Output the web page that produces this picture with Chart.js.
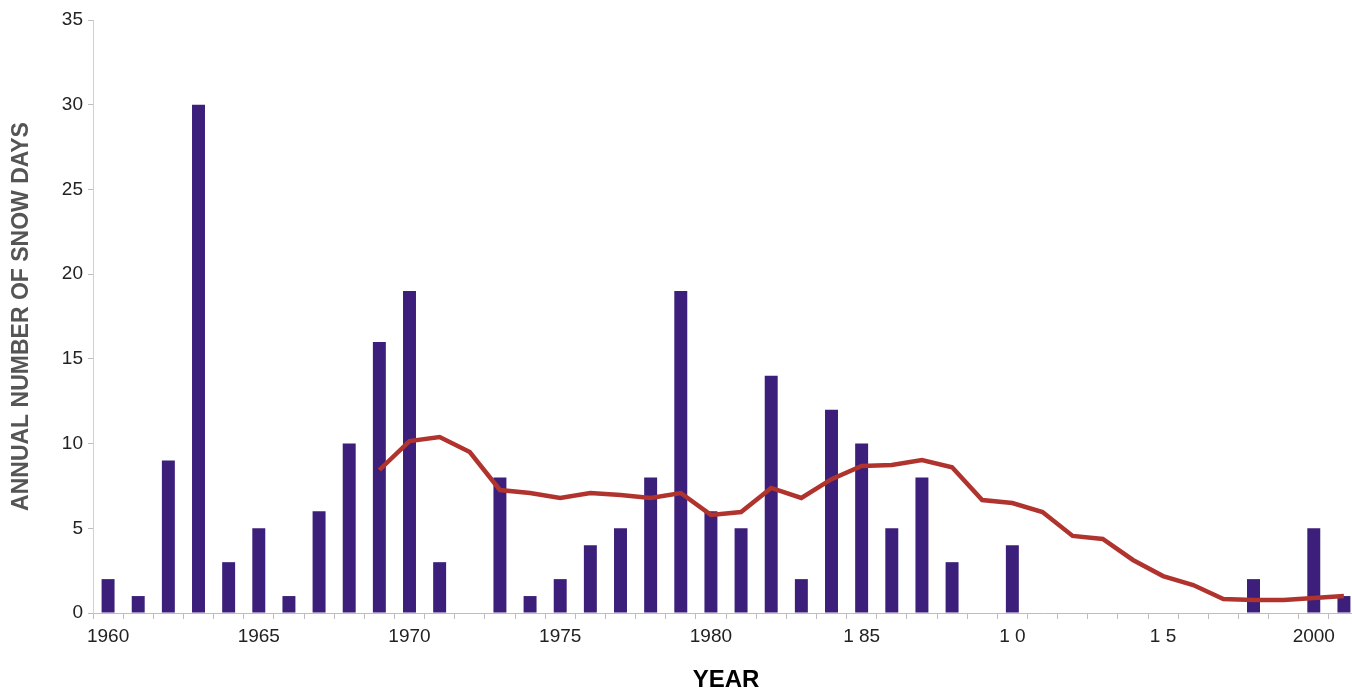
<!DOCTYPE html>
<html lang="en">
<head>
    <meta charset="UTF-8">
    <title>Annual Number of Snow Days</title>
    <script src="https://cdn.jsdelivr.net/npm/chart.js"></script>
    <style>
        body { margin: 0; background: #ffffff; overflow: hidden; }
        #wrap { width: 1360px; height: 695px; }
    </style>
</head>
<body>
    <div id="wrap">
        <canvas id="snowChart" width="1360" height="695"></canvas>
    </div>

    <script>
        // years on the x axis
        const years = [
            1960, 1961, 1962, 1963, 1964, 1965, 1966, 1967, 1968, 1969,
            1970, 1971, 1972, 1973, 1974, 1975, 1976, 1977, 1978, 1979,
            1980, 1981, 1982, 1983, 1984, 1985, 1986, 1987, 1988, 1989,
            1990, 1991, 1992, 1993, 1994, 1995, 1996, 1997, 1998, 1999,
            2000, 2001
        ];

        // annual snow days (bars)
        const snowDays = [
            2, 1, 9, 30, 3, 5, 1, 6, 10, 16,
            19, 3, 0, 8, 1, 2, 4, 5, 8, 19,
            6, 5, 14, 2, 12, 10, 5, 8, 3, 0,
            4, 0, 0, 0, 0, 0, 0, 0, 2, 0,
            5, 1
        ];

        // moving average (red line), starts in 1969
        const movingAvg = [
            null, null, null, null, null, null, null, null, null, 8.44,
            10.15, 10.39, 9.5, 7.26, 7.08, 6.79, 7.08, 6.97, 6.79, 7.08,
            5.79, 5.96, 7.38, 6.79, 7.9, 8.68, 8.74, 9.03, 8.6, 6.67,
            6.49, 5.96, 4.55, 4.37, 3.13, 2.18, 1.65, 0.83, 0.77, 0.77,
            0.89, 1.0
        ];

        // tick labels shown every 5 years, as printed on the original
        const xTickLabels = ['1960', '1965', '1970', '1975', '1980', '1 85', '1 0', '1 5', '2000'];

        const ctx = document.getElementById('snowChart').getContext('2d');
        new Chart(ctx, {
            data: {
                labels: years,
                datasets: [
                    {
                        type: 'line',
                        label: 'Moving average',
                        data: movingAvg,
                        borderColor: '#b0332e',
                        borderWidth: 4.5,
                        pointRadius: 0,
                        tension: 0,
                        spanGaps: false,
                        order: 0
                    },
                    {
                        type: 'bar',
                        label: 'Snow days',
                        data: snowDays,
                        backgroundColor: '#3b1f7a',
                        barPercentage: 0.43,
                        categoryPercentage: 1.0,
                        order: 1
                    }
                ]
            },
            options: {
                responsive: false,
                animation: false,
                layout: { padding: { left: 0, right: 1, top: 20, bottom: 3 } },
                plugins: {
                    legend: { display: false },
                    tooltip: { enabled: false }
                },
                scales: {
                    x: {
                        offset: true,
                        grid: {
                            offset: true,
                            drawOnChartArea: false,
                            drawTicks: true,
                            tickLength: 6,
                            color: '#bdbdbd'
                        },
                        border: { color: '#bdbdbd', width: 1 },
                        ticks: {
                            autoSkip: false,
                            maxRotation: 0,
                            padding: 6,
                            color: '#222222',
                            font: { family: 'Liberation Sans, Arial, sans-serif', size: 19 },
                            callback: function (value, index) {
                                return index % 5 === 0 ? xTickLabels[index / 5] : '';
                            }
                        },
                        title: {
                            display: true,
                            text: 'YEAR',
                            color: '#000000',
                            font: { family: 'Liberation Sans, Arial, sans-serif', size: 24, weight: 'bold', lineHeight: 1 },
                            padding: { top: 0, bottom: 0 }
                        },
                        afterFit: function (scale) { scale.height = 79; }
                    },
                    y: {
                        min: 0,
                        max: 35,
                        ticks: {
                            stepSize: 5,
                            padding: 5,
                            color: '#222222',
                            font: { family: 'Liberation Sans, Arial, sans-serif', size: 19 }
                        },
                        grid: {
                            drawOnChartArea: false,
                            drawTicks: true,
                            tickLength: 5,
                            color: '#bdbdbd'
                        },
                        border: { color: '#d0d0d0', width: 1 },
                        title: {
                            display: true,
                            text: 'ANNUAL NUMBER OF SNOW DAYS',
                            color: '#555555',
                            font: { family: 'Liberation Sans, Arial, sans-serif', size: 23, weight: 'bold', lineHeight: 1 },
                            padding: { top: 10, bottom: 0 }
                        },
                        afterFit: function (scale) { scale.width = 93; }
                    }
                }
            }
        });
    </script>
</body>
</html>
